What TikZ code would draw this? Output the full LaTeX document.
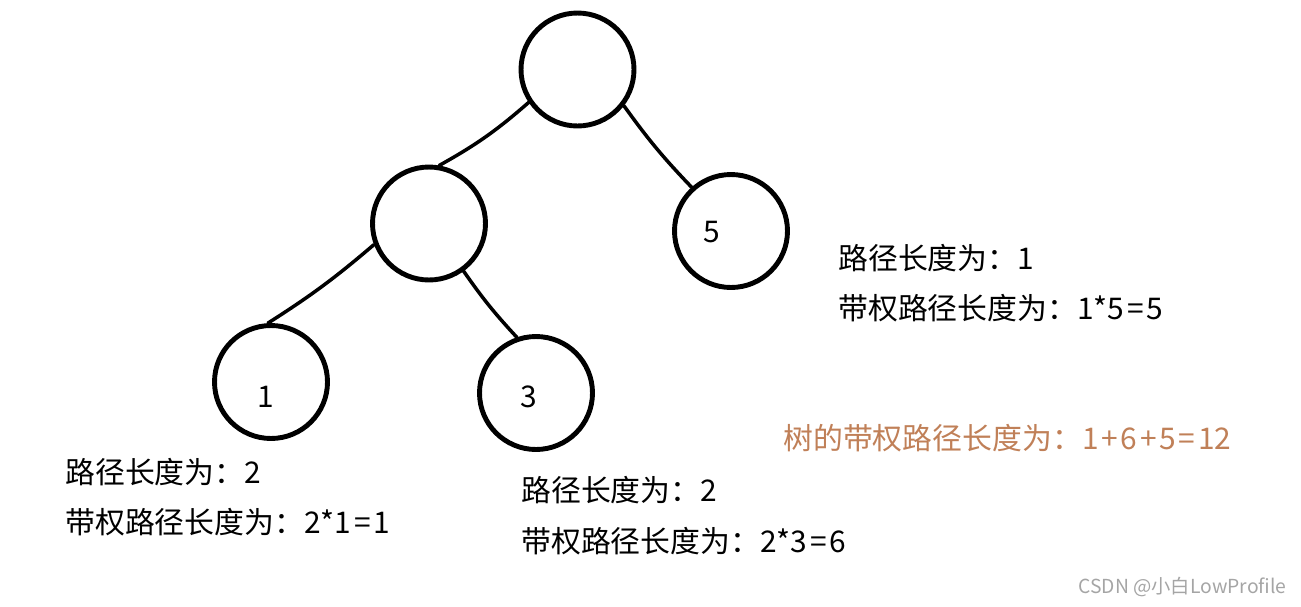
\documentclass[tikz,border=0pt]{standalone}
\usepackage{fontspec}
\setmainfont{Noto Sans CJK SC}
\usepackage{tikz}
\usetikzlibrary{positioning}
\definecolor{sumbrown}{RGB}{192,128,88}
\definecolor{wmgray}{RGB}{165,165,165}
\newcommand{\opsp}[1]{\kern1.6pt#1\kern1.6pt}

\begin{document}
\begin{tikzpicture}[x=0.02cm, y=-0.02cm,
    tnode/.style={circle, draw, line width=2.8pt, minimum size=2.26cm, inner sep=0pt},
    edge/.style={line width=2pt, line cap=round},
    info/.style={anchor=west, inner sep=0pt, font=\fontsize{17}{20}\selectfont},
    wm/.style={anchor=west, inner sep=0pt, text=wmgray, font=\fontsize{11}{13}\selectfont}]
    \useasboundingbox (0,0) rectangle (1301,606);

    % Tree nodes
    \node[tnode] (root) at (577.5,69.5) {};
    \node[tnode] (mid) at (429,223.5) {};
    \node[tnode] (n5) at (731,231) {};
    \node[tnode] (n1) at (271,382) {};
    \node[tnode] (n3) at (536,393) {};

    % Weights
    \node[info, anchor=center] (w5) at (712,232) {5};
    \node[info, anchor=center] (w1) at (266,397) {1};
    \node[info, anchor=center] (w3) at (529,397) {3};

    % Edges
    \draw[edge] (root.214) to[bend left=6] (mid.80);
    \draw[edge] (root.322) to[bend right=4] (n5.132);
    \draw[edge] (mid.201) to[bend left=4] (n1.93);
    \draw[edge] (mid.306) to[bend right=4] (n3.109);

    % Path lengths
    \node[info] (len5) at (838,258) {路径长度为：1};
    \node[info] (wlen5) at (838,308) {带权路径长度为：1*5\opsp{=}5};
    \node[info] (len1) at (65,472) {路径长度为：2};
    \node[info] (wlen1) at (65,522) {带权路径长度为：2*1\opsp{=}1};
    \node[info] (len3) at (521,490) {路径长度为：2};
    \node[info] (wlen3) at (521,541) {带权路径长度为：2*3\opsp{=}6};

    % Total
    \node[info, text=sumbrown] (total) at (783,438) {树的带权路径长度为：1\opsp{+}6\opsp{+}5\opsp{=}12};

    % Watermark
    \node[wm] (mark) at (1078,587) {CSDN @小白LowProfile};
\end{tikzpicture}
\end{document}
